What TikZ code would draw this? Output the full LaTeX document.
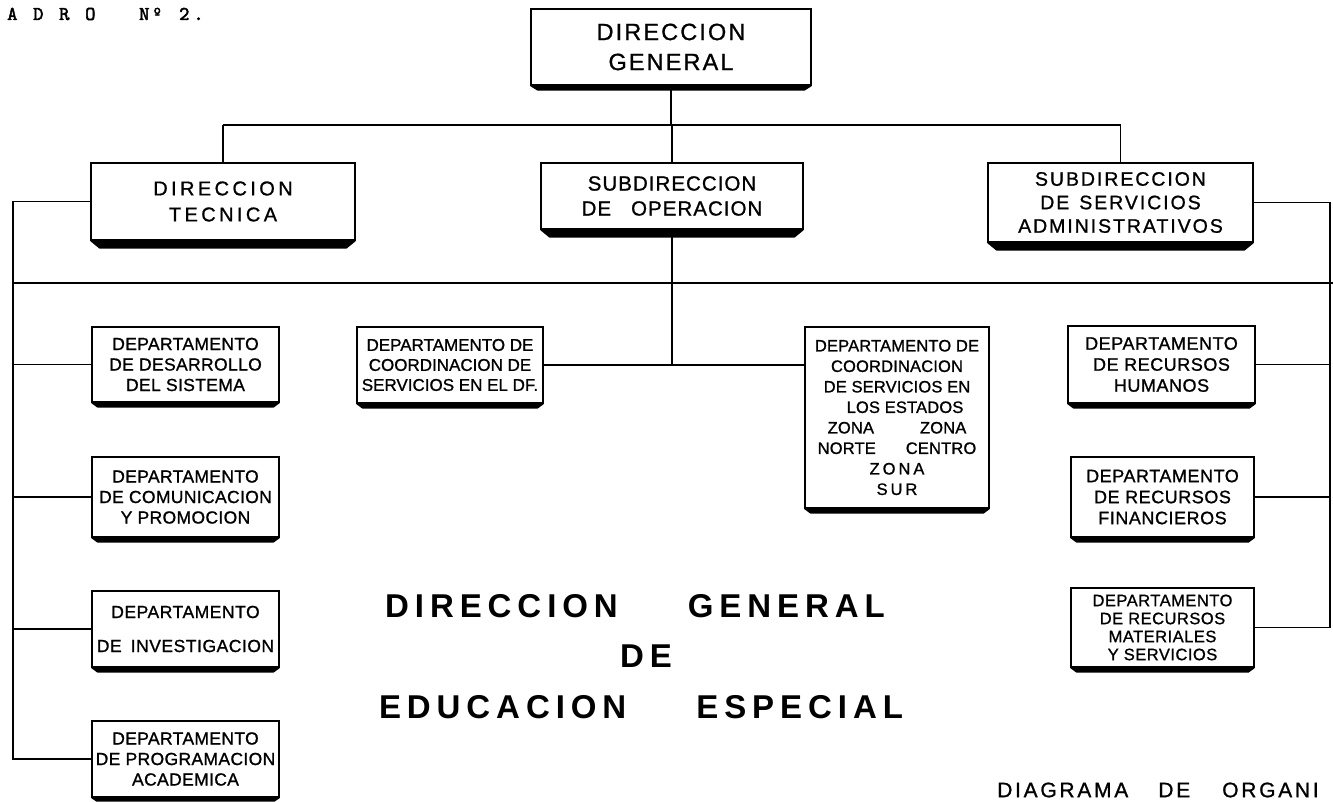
\documentclass[tikz,border=0pt]{standalone}
\usepackage{fontspec}
\setmainfont{Liberation Sans}
\newfontfamily\semib[FakeBold=1]{Liberation Sans}
\newfontfamily\monof[FakeBold=2.5]{lmmono10-regular.otf}
\usetikzlibrary{calc}
\newcommand{\fdg}{\semib\fontsize{23.5}{30}\selectfont\addfontfeature{LetterSpace=9}}
\newcommand{\fdt}{\semib\fontsize{20}{26}\selectfont\addfontfeature{LetterSpace=17}}
\newcommand{\fso}{\semib\fontsize{20.5}{25}\selectfont\addfontfeature{LetterSpace=5}}
\newcommand{\fsa}{\semib\fontsize{19.5}{23.5}\selectfont\addfontfeature{LetterSpace=10}}
\newcommand{\fdp}{\semib\fontsize{17.5}{20.5}\selectfont\addfontfeature{LetterSpace=2}}
\newcommand{\fes}{\semib\fontsize{16.5}{20.5}\selectfont\addfontfeature{LetterSpace=1}}
\newcommand{\frr}{\semib\fontsize{18}{21}\selectfont\addfontfeature{LetterSpace=3}}
\newcommand{\frm}{\semib\fontsize{16.5}{18}\selectfont\addfontfeature{LetterSpace=3}}
\newcommand{\ftitle}{\bfseries\fontsize{33}{36}\selectfont\addfontfeature{LetterSpace=18}}
\newcommand{\fdiag}{\semib\fontsize{21}{25}\selectfont\addfontfeature{LetterSpace=13}}
\newcommand{\tsp}[1]{\hspace{#1pt}}
\newcommand{\bev}[3]{\fill ($(#1.south west)+(0,0.6)$) -- ($(#1.south east)+(0,0.6)$) -- ($(#1.south east)+(-#3,#2)$) -- ($(#1.south west)+(#3,#2)$) -- cycle;}
\tikzset{
  bx/.style={draw, line width=1.2pt, fill=white, align=center, inner sep=0pt},
  sz/.style 2 args={minimum width=#1, minimum height=#2},
  cn/.style={line width=1.6pt},
  txt/.style={inner sep=0pt, align=center}
}
\begin{document}
\begin{tikzpicture}[x=1pt,y=-1pt]
\useasboundingbox (0,0) rectangle (1333,802);
% helper coordinates
\coordinate (hTop) at (0,125);
\coordinate (hMid) at (0,283);
\coordinate (L) at (13,0);
\coordinate (R) at (1330,0);
\coordinate (hEnd) at (1333,283);

% boxes
\node[bx, sz={280}{76}, font=\fdg] (dg) at (671,47) {DIRECCION\\GENERAL};
\node[bx, sz={264}{77}, font=\fdt] (dt) at (223,201.5) {DIRECCION\\TECNICA};
\node[bx, sz={262}{66}, font=\fso] (so) at (672,196) {SUBDIRECCION\\DE\hspace{20pt}OPERACION};
\node[bx, sz={265}{79}, font=\fsa] (sa) at (1120.5,202.5) {SUBDIRECCION\\DE\hspace{10pt}SERVICIOS\\ADMINISTRATIVOS};

\node[bx, sz={187}{75}, font=\fdp] (d1) at (185.5,364.5) {DEPARTAMENTO\\DE DESARROLLO\\DEL SISTEMA};
\node[bx, sz={187}{80}, font=\fdp] (d2) at (185.5,497) {DEPARTAMENTO\\DE COMUNICACION\\Y PROMOCION};
\node[bx, sz={187}{76}, font=\semib\fontsize{17.5}{34}\selectfont\addfontfeature{LetterSpace=3}] (d3) at (185.5,629) {DEPARTAMENTO\\DE\hspace{9pt}INVESTIGACION};
\node[bx, sz={187}{76}, font=\fdp] (d4) at (185.5,759) {DEPARTAMENTO\\DE PROGRAMACION\\ACADEMICA};

\node[bx, sz={186}{76}, font=\semib\fontsize{17}{20}\selectfont] (df) at (450,365) {DEPARTAMENTO DE\\COORDINACION DE\\SERVICIOS EN EL DF.};
\node[bx, sz={184}{181}, font=\fes] (es) at (897,417.5) {DEPARTAMENTO DE\\COORDINACION\\DE SERVICIOS EN\\\hspace*{16pt}LOS ESTADOS\\ZONA\hspace{46pt}ZONA\\NORTE\hspace{30pt}CENTRO\\{\addfontfeature{LetterSpace=18}ZONA}\\{\addfontfeature{LetterSpace=18}SUR}};

\node[bx, sz={187}{77}, font=\frr] (r1) at (1161.5,364.5) {DEPARTAMENTO\\DE RECURSOS\\HUMANOS};
\node[bx, sz={183}{80}, font=\frr] (r2) at (1162.5,497) {DEPARTAMENTO\\DE RECURSOS\\FINANCIEROS};
\node[bx, sz={183}{79}, font=\frm] (r3) at (1162.5,627.5) {DEPARTAMENTO\\DE RECURSOS\\MATERIALES\\Y SERVICIOS};

% connectors
\draw[cn] (dg.south) -- (dg.south |- hTop);
\draw[cn] (dt.north |- hTop) -- (sa.north |- hTop);
\draw[cn] (dt.north |- hTop) -- (dt.north);
\draw[cn] (so.north |- hTop) -- (so.north);
\draw[cn] (sa.north |- hTop) -- (sa.north);
\draw[cn] (dt.west) -- (dt.west -| L) -- (d4.west -| L) -- (d4.west);
\draw[cn] (L |- hMid) -- (hEnd);
\draw[cn] (d1.west -| L) -- (d1.west);
\draw[cn] (d2.west -| L) -- (d2.west);
\draw[cn] (d3.west -| L) -- (d3.west);
\draw[cn] (sa.east) -- (sa.east -| R) -- (r3.east -| R) -- (r3.east);
\draw[cn] (r1.east -| R) -- (r1.east);
\draw[cn] (r2.east -| R) -- (r2.east);
\draw[cn] (so.south) -- (so.south |- df.east);
\draw[cn] (df.east) -- (df.east -| es.west);

% bevelled bottom shadows
\bev{dg}{5}{7}
\bev{dt}{8}{9}
\bev{so}{8}{9}
\bev{sa}{8}{9}
\bev{d1}{5}{6}
\bev{d2}{5}{6}
\bev{d3}{5}{6}
\bev{d4}{4}{5}
\bev{df}{5}{6}
\bev{es}{5}{6}
\bev{r1}{5}{6}
\bev{r2}{5}{6}
\bev{r3}{5}{6}

% free texts
\node[txt, anchor=west, font=\monof\fontsize{19.6}{24}\selectfont] (cap) at (7,14) {A\tsp{15.7}D\tsp{15.7}R\tsp{15.7}O\tsp{43.7}N\tsp{2.7}º\tsp{16.7}2\tsp{4}.};
\node[txt, font=\ftitle] (t1) at (635,606) {DIRECCION\hspace{70pt}GENERAL};
\node[txt, font=\ftitle] (t2) at (646,656) {DE};
\node[txt, font=\ftitle] (t3) at (641,707) {EDUCACION\hspace{70pt}ESPECIAL};
\node[txt, anchor=west, font=\fdiag] (dgm) at (997,790) {DIAGRAMA\hspace{30pt}DE\hspace{32pt}ORGANI};
\end{tikzpicture}
\end{document}
